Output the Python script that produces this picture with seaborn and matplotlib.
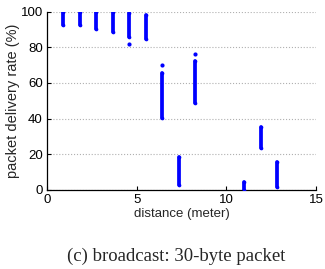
import numpy as np
import pandas as pd
import matplotlib
matplotlib.use('Agg')
import matplotlib.pyplot as plt
import seaborn as sns

# distance of each node (meter) and the range of delivery rates seen there
distance = [0.91, 1.84, 2.75, 3.68, 4.57, 5.50, 6.43, 8.23, 7.36, 11.0, 11.93, 12.84]
rate_low = [92.5, 92.5, 90.5, 88.5, 85.5, 84.8, 40.5, 48.6, 3.0, 0.0, 23.5, 1.5]
rate_high = [100, 100, 100, 100, 99.2, 98.3, 65.5, 72.5, 18.3, 4.3, 35.5, 15.5]

# isolated samples away from the main run
outlier_x = [4.57, 6.43, 8.23]
outlier_y = [82.0, 70.0, 76.0]

sns.set_style('white')
plt.rcParams['font.family'] = ['Liberation Sans', 'DejaVu Sans']

fig = plt.figure(figsize=(3.25, 2.69), dpi=100)
ax = fig.add_axes([0.1446, 0.2937, 0.8277, 0.6633])

# dense runs of samples drawn as thick vertical strokes
ax.vlines(distance, rate_low, rate_high, color='blue', linewidth=2.7,
          capstyle='round', zorder=3)
ends = pd.DataFrame({'x': distance * 2, 'y': rate_low + rate_high})
sns.scatterplot(data=ends, x='x', y='y', color='blue', s=7, linewidth=0,
                ax=ax, zorder=3)
sns.scatterplot(x=outlier_x, y=outlier_y, color='blue', s=9, linewidth=0,
                ax=ax, zorder=3)

ax.set_xlim(0, 15)
ax.set_ylim(0, 100)
ax.set_xticks([0, 5, 10, 15])
ax.set_yticks([0, 20, 40, 60, 80, 100])
ax.yaxis.grid(True, linestyle=':', color='#b0b0b0', linewidth=0.8)
ax.xaxis.grid(False)
ax.set_axisbelow(True)

for side in ['top', 'right']:
    ax.spines[side].set_visible(False)
for side in ['left', 'bottom']:
    ax.spines[side].set_color('black')
    ax.spines[side].set_linewidth(0.9)

ax.tick_params(direction='in', length=3, width=0.8, labelsize=9.5, pad=3,
               colors='black', bottom=True, left=True)
ax.set_xlabel('distance (meter)', fontsize=9.5, labelpad=1.5)
ax.set_ylabel('packet delivery rate (%)', fontsize=10.5, labelpad=0.5)

fig.text(0.542, 0.048, '(c) broadcast: 30-byte packet', ha='center', va='center',
         fontsize=13.5, family=['Liberation Serif', 'DejaVu Serif'])

fig.savefig('out.png', dpi=100)
